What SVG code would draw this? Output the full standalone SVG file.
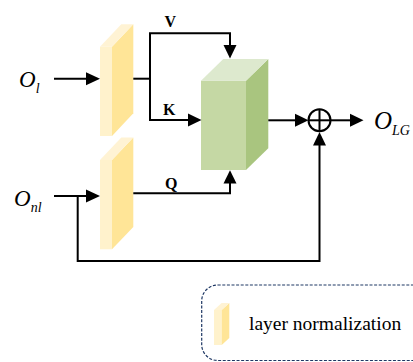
<svg xmlns="http://www.w3.org/2000/svg" width="413" height="362" viewBox="0 0 413 362">
<style>
.ln-front{fill:#FFF2CC}
.ln-side{fill:#FFE597}
.ln-top{fill:#FFF3D4}
.g-front{fill:#C5D8A4}
.g-side{fill:#A9C57F}
.g-top{fill:#DDE9CE}
.wire{fill:none;stroke:#000;stroke-width:2}
.head{fill:#000}
text{font-family:'Liberation Serif','Times New Roman','DejaVu Serif',serif;fill:#000}
.math{font-style:italic}
.lbl{font-weight:bold;font-size:16px}
.legend-text{font-size:19.5px}
</style>
<rect width="413" height="362" fill="#fff"/>

<g id="ln1">
  <rect class="ln-front" x="100" y="46.7" width="12" height="89.3"/>
  <polygon class="ln-side" points="112,46.7 133.3,24.3 133.3,113.3 112,136"/>
  <polygon class="ln-top" points="100,46.7 121.3,24.3 133.3,24.3 112,46.7"/>
</g>
<g id="ln2">
  <rect class="ln-front" x="100" y="160" width="12" height="89.3"/>
  <polygon class="ln-side" points="112,160 133.3,137.5 133.3,227 112,249.3"/>
  <polygon class="ln-top" points="100,160 121.3,137.5 133.3,137.5 112,160"/>
</g>
<g id="attention">
  <rect class="g-front" x="201" y="80.7" width="45" height="89.3"/>
  <polygon class="g-side" points="246,80.7 268.3,59 268.3,148.3 246,170"/>
  <polygon class="g-top" points="201,80.7 223.3,59 268.3,59 246,80.7"/>
</g>
<g id="add">
  <circle cx="319.5" cy="120.3" r="11" fill="none" stroke="#000" stroke-width="2"/>
  <line x1="308.5" y1="120.3" x2="330.5" y2="120.3" stroke="#000" stroke-width="2"/>
  <line x1="319.5" y1="109.3" x2="319.5" y2="131.3" stroke="#000" stroke-width="2"/>
</g>

<g id="connectors">
  <polyline class="wire" points="54,78.7 88,78.7"/>
  <polygon class="head" points="100,78.7 86,72.2 86,85.2"/>
  <polyline class="wire" points="133.3,78.7 150,78.7"/>
  <polyline class="wire" points="150,120 150,33.3 230,33.3 230,46"/>
  <polygon class="head" points="230,58.5 223.5,45 236.5,45"/>
  <polyline class="wire" points="150,119 150,120 189,120"/>
  <polygon class="head" points="201.5,120 188,113.5 188,126.5"/>
  <polyline class="wire" points="133.3,193.3 230,193.3 230,182"/>
  <polygon class="head" points="230,170.3 223.5,183.5 236.5,183.5"/>
  <polyline class="wire" points="268.3,120.3 296,120.3"/>
  <polygon class="head" points="308.5,120.3 295,113.8 295,126.8"/>
  <polyline class="wire" points="330.5,120.3 351,120.3"/>
  <polygon class="head" points="363.5,120.3 350,113.8 350,126.8"/>
  <polyline class="wire" points="54,196 88,196"/>
  <polygon class="head" points="100,196 86,189.5 86,202.5"/>
  <polyline class="wire" points="77.7,196 77.7,261 319.5,261 319.5,144"/>
  <polygon class="head" points="319.5,132 313,145.5 326,145.5"/>
</g>

<g id="labels">
  <text class="math" x="19" y="87" font-size="23">O<tspan font-size="14" dy="6">l</tspan></text>
  <text class="math" x="14" y="206" font-size="23">O<tspan font-size="14" dy="6">nl</tspan></text>
  <text class="math" x="374" y="128.5" font-size="25">O<tspan font-size="14" dy="6.5">LG</tspan></text>
  <text class="lbl" x="164.5" y="26.7">V</text>
  <text class="lbl" x="163" y="115">K</text>
  <text class="lbl" x="165" y="189">Q</text>
</g>

<g id="legend">
  <rect x="201.7" y="285" width="240" height="75.5" rx="16" ry="16" fill="none" stroke="#1F3864" stroke-width="1.2" stroke-dasharray="3,1.6"/>
  <rect class="ln-front" x="214" y="310" width="7.7" height="35"/>
  <polygon class="ln-side" points="221.7,310 229.3,303 229.3,338 221.7,345"/>
  <polygon class="ln-top" points="214,310 221.6,303 229.3,303 221.7,310"/>
  <text class="legend-text" x="249" y="330">layer normalization</text>
</g>
</svg>
